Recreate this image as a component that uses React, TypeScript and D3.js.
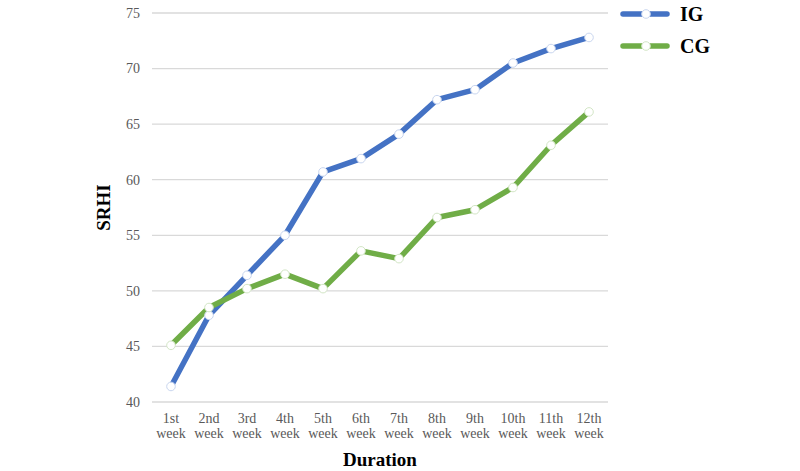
import { useEffect, useRef } from 'react';
import * as d3 from 'd3';

// chart data
const weeks = ['1st', '2nd', '3rd', '4th', '5th', '6th', '7th', '8th', '9th', '10th', '11th', '12th'];
const igValues = [41.4, 47.8, 51.4, 55.0, 60.7, 61.9, 64.1, 67.2, 68.1, 70.5, 71.8, 72.8];
const cgValues = [45.1, 48.5, 50.2, 51.5, 50.2, 53.6, 52.9, 56.6, 57.3, 59.3, 63.1, 66.1];
const yTicks = [40, 45, 50, 55, 60, 65, 70, 75];

const seriesList = [
  { name: 'IG', values: igValues, color: '#4472C4' },
  { name: 'CG', values: cgValues, color: '#70AD47' },
];

const width = 800;
const height = 471;
const margin = { top: 13, right: 192, bottom: 69, left: 152 };
const font = '"Liberation Serif", "Times New Roman", serif';

const App = () => {
  const svgRef = useRef<SVGSVGElement | null>(null);

  useEffect(() => {
    const svg = d3.select(svgRef.current);
    svg.selectAll('*').remove();

    const innerWidth = width - margin.left - margin.right;
    const innerHeight = height - margin.top - margin.bottom;

    const x = d3.scaleBand<string>().domain(weeks).range([0, innerWidth]);
    const y = d3.scaleLinear().domain([40, 75]).range([innerHeight, 0]);

    const g = svg.append('g').attr('transform', `translate(${margin.left},${margin.top})`);

    // gridlines
    g.selectAll('.grid')
      .data(yTicks)
      .enter()
      .append('line')
      .attr('x1', 0)
      .attr('x2', innerWidth)
      .attr('y1', d => y(d))
      .attr('y2', d => y(d))
      .attr('stroke', '#d9d9d9')
      .attr('stroke-width', 1.3);

    // y tick labels
    g.selectAll('.ytick')
      .data(yTicks)
      .enter()
      .append('text')
      .attr('x', -12)
      .attr('y', d => y(d))
      .attr('dy', '0.35em')
      .attr('text-anchor', 'end')
      .attr('font-family', font)
      .attr('font-size', 14)
      .attr('fill', '#595959')
      .text(d => d);

    // x tick labels
    const xl = g.selectAll('.xtick')
      .data(weeks)
      .enter()
      .append('text')
      .attr('text-anchor', 'middle')
      .attr('font-family', font)
      .attr('font-size', 14)
      .attr('fill', '#595959');
    xl.append('tspan')
      .attr('x', d => (x(d) ?? 0) + x.bandwidth() / 2)
      .attr('y', innerHeight + 21)
      .text(d => d);
    xl.append('tspan')
      .attr('x', d => (x(d) ?? 0) + x.bandwidth() / 2)
      .attr('y', innerHeight + 36)
      .text('week');

    const line = d3.line<number>()
      .x((_, i) => (x(weeks[i]) ?? 0) + x.bandwidth() / 2)
      .y(d => y(d));

    seriesList.forEach(s => {
      g.append('path')
        .datum(s.values)
        .attr('d', line)
        .attr('fill', 'none')
        .attr('stroke', s.color)
        .attr('stroke-width', 5.5)
        .attr('stroke-linejoin', 'round');
    });

    seriesList.forEach(s => {
      g.selectAll(null)
        .data(s.values)
        .enter()
        .append('circle')
        .attr('cx', (_, i) => (x(weeks[i]) ?? 0) + x.bandwidth() / 2)
        .attr('cy', d => y(d))
        .attr('r', 4.3)
        .attr('fill', '#ffffff')
        .attr('stroke', s.name === 'IG' ? '#c9d6ef' : '#d3e6c6')
        .attr('stroke-width', 1);
    });

    // axis titles
    svg.append('text')
      .attr('transform', `translate(110,${margin.top + innerHeight / 2}) rotate(-90)`)
      .attr('text-anchor', 'middle')
      .attr('font-family', font)
      .attr('font-size', 19)
      .attr('font-weight', 'bold')
      .text('SRHI');

    svg.append('text')
      .attr('x', margin.left + innerWidth / 2)
      .attr('y', 466)
      .attr('text-anchor', 'middle')
      .attr('font-family', font)
      .attr('font-size', 19)
      .attr('font-weight', 'bold')
      .text('Duration');

    // legend
    const legend = svg.append('g').attr('transform', 'translate(623,14)');
    seriesList.forEach((s, i) => {
      const row = legend.append('g').attr('transform', `translate(0,${i * 32})`);
      row.append('line')
        .attr('x1', 0)
        .attr('x2', 44)
        .attr('stroke', s.color)
        .attr('stroke-width', 5.5)
        .attr('stroke-linecap', 'round');
      row.append('circle')
        .attr('cx', 23)
        .attr('r', 4.3)
        .attr('fill', '#ffffff')
        .attr('stroke', s.name === 'IG' ? '#c9d6ef' : '#d3e6c6');
      row.append('text')
        .attr('x', 57)
        .attr('dy', '0.35em')
        .attr('font-family', font)
        .attr('font-size', 20)
        .attr('font-weight', 'bold')
        .text(s.name);
    });
  }, []);

  return (
    <svg
      ref={svgRef}
      width={width}
      height={height}
      style={{ position: 'absolute', left: 0, top: 0, background: '#fff' }}
    />
  );
};

export default App;
